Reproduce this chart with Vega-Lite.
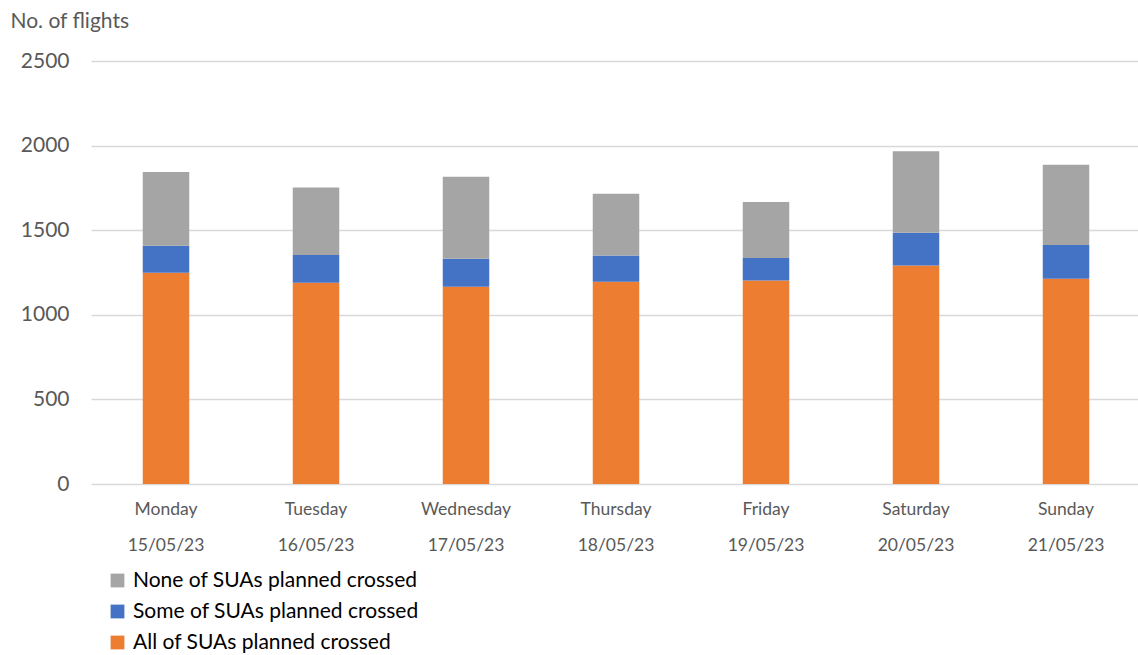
{
  "$schema": "https://vega.github.io/schema/vega-lite/v6.json",
  "autosize": "none",
  "width": 1050,
  "height": 423,
  "padding": {"left": 91, "top": 61, "right": 0, "bottom": 171},
  "background": "white",
  "config": {"view": {"stroke": null}, "font": "Lato"},
  "data": {
    "values": [
      {"day": "Monday|15/05/23", "cat": "All of SUAs planned crossed", "k": 1, "n": 1248},
      {"day": "Monday|15/05/23", "cat": "Some of SUAs planned crossed", "k": 2, "n": 160},
      {"day": "Monday|15/05/23", "cat": "None of SUAs planned crossed", "k": 3, "n": 436},
      {"day": "Tuesday|16/05/23", "cat": "All of SUAs planned crossed", "k": 1, "n": 1189},
      {"day": "Tuesday|16/05/23", "cat": "Some of SUAs planned crossed", "k": 2, "n": 164},
      {"day": "Tuesday|16/05/23", "cat": "None of SUAs planned crossed", "k": 3, "n": 400},
      {"day": "Wednesday|17/05/23", "cat": "All of SUAs planned crossed", "k": 1, "n": 1166},
      {"day": "Wednesday|17/05/23", "cat": "Some of SUAs planned crossed", "k": 2, "n": 165},
      {"day": "Wednesday|17/05/23", "cat": "None of SUAs planned crossed", "k": 3, "n": 485},
      {"day": "Thursday|18/05/23", "cat": "All of SUAs planned crossed", "k": 1, "n": 1195},
      {"day": "Thursday|18/05/23", "cat": "Some of SUAs planned crossed", "k": 2, "n": 156},
      {"day": "Thursday|18/05/23", "cat": "None of SUAs planned crossed", "k": 3, "n": 365},
      {"day": "Friday|19/05/23", "cat": "All of SUAs planned crossed", "k": 1, "n": 1203},
      {"day": "Friday|19/05/23", "cat": "Some of SUAs planned crossed", "k": 2, "n": 132},
      {"day": "Friday|19/05/23", "cat": "None of SUAs planned crossed", "k": 3, "n": 332},
      {"day": "Saturday|20/05/23", "cat": "All of SUAs planned crossed", "k": 1, "n": 1292},
      {"day": "Saturday|20/05/23", "cat": "Some of SUAs planned crossed", "k": 2, "n": 193},
      {"day": "Saturday|20/05/23", "cat": "None of SUAs planned crossed", "k": 3, "n": 481},
      {"day": "Sunday|21/05/23", "cat": "All of SUAs planned crossed", "k": 1, "n": 1213},
      {"day": "Sunday|21/05/23", "cat": "Some of SUAs planned crossed", "k": 2, "n": 199},
      {"day": "Sunday|21/05/23", "cat": "None of SUAs planned crossed", "k": 3, "n": 475}
    ]
  },
  "mark": {"type": "bar"},
  "encoding": {
    "x": {
      "field": "day",
      "type": "nominal",
      "sort": null,
      "scale": {"paddingInner": 0.69, "paddingOuter": 0.345},
      "axis": {
        "title": null,
        "labelAngle": 0,
        "labelExpr": "split(datum.label, '|')",
        "labelLineHeight": 36,
        "labelFontSize": 17.5,
        "labelColor": "#595959",
        "labelPadding": 16,
        "ticks": false,
        "domain": false
      }
    },
    "y": {
      "field": "n",
      "type": "quantitative",
      "stack": "zero",
      "scale": {"domain": [0, 2500]},
      "axis": {
        "values": [0, 500, 1000, 1500, 2000, 2500],
        "format": "d",
        "title": "No. of flights",
        "titleAngle": 0,
        "titleAlign": "left",
        "titleBaseline": "alphabetic",
        "titleX": -81,
        "titleY": -34,
        "titleFontSize": 21,
        "titleFontWeight": "normal",
        "titleColor": "#595959",
        "labelFontSize": 21,
        "labelColor": "#595959",
        "labelPadding": 22,
        "ticks": false,
        "domain": false,
        "gridColor": "#D9D9D9",
        "gridWidth": 1.3
      }
    },
    "color": {
      "field": "cat",
      "type": "nominal",
      "scale": {
        "domain": ["None of SUAs planned crossed", "Some of SUAs planned crossed", "All of SUAs planned crossed"],
        "range": ["#A5A5A5", "#4472C4", "#ED7D31"]
      },
      "legend": {
        "title": null,
        "orient": "none",
        "legendX": 16,
        "legendY": 509,
        "direction": "vertical",
        "symbolType": "square",
        "symbolSize": 190,
        "symbolStrokeWidth": 0,
        "symbolOpacity": 1,
        "labelFontSize": 21,
        "labelColor": "#000000",
        "labelLimit": 500,
        "rowPadding": 9,
        "labelOffset": 5
      }
    },
    "order": {"field": "k", "type": "quantitative"}
  }
}
